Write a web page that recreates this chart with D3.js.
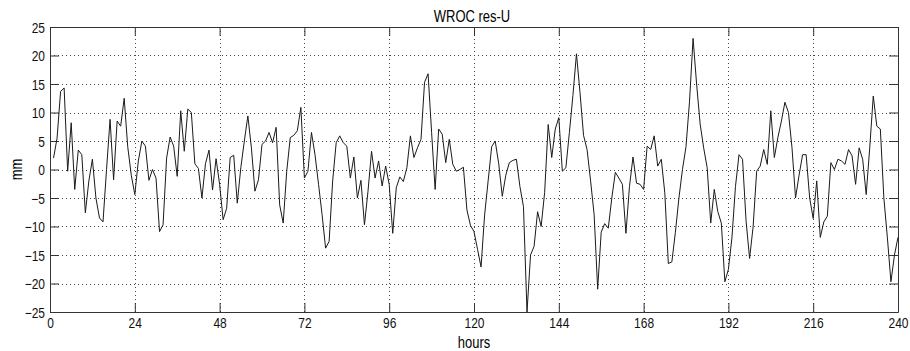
<!DOCTYPE html>
<html>
<head>
<meta charset="utf-8">
<script src="https://cdn.jsdelivr.net/npm/d3@7"></script>
<style>
  body { margin: 0; background: #fff; }
  svg { display: block; font-family: "Liberation Sans", Arial, sans-serif; }
</style>
</head>
<body>
<div class="chart"></div>
<script>
// hourly residuals, hours 1..240
const resU = [
  2, 5.5, 13.7, 14.3, -0.3, 8.2, -3.5, 3.4, 2.6, -7.6,
  -2, 1.8, -5, -8.5, -9.2, 0, 8.8, -1.8, 8.5, 7.6,
  12.5, 4, -1, -4.4, 1.5, 5, 4.1, -1.9, 0, -1.5,
  -10.9, -9.7, 2, 5.7, 4.1, -1.2, 10.3, 3.2, 10.6, 10,
  1, 0.2, -5, 1, 3.4, -3.6, 1.9, -2.6, -8.8, -6.8,
  2.1, 2.5, -5.9, 0.3, 5, 9.4, 3.8, -3.8, -1.8, 4.4,
  5, 6.5, 4.7, 7.4, -6.2, -9.4, -0.3, 5.6, 6, 6.8,
  10.9, -1.5, -0.3, 6.5, 2.6, -2.6, -7.9, -13.8, -12.6, -2,
  4.7, 5.9, 4.7, 4.1, -1.5, 2.2, -5, -1.9, -9.7, -3.8,
  3.2, -1.5, 1.5, -2.9, 0.6, -2.6, -11.2, -3.2, -1.3, -2.1,
  0.3, 5.9, 2.1, 3.8, 5.3, 15.3, 16.8, 6.5, -3.5, 7.1,
  6.2, 1.2, 5.3, 0.9, -0.3, 0, 0.4, -7.1, -9.8, -10.9,
  -14, -17.1, -8, -2, 4, 5, 1, -4.7, -1, 1.2,
  1.6, 1.8, -3, -6.5, -25, -15, -13.5, -7.4, -10, -4,
  7.9, 2.1, 7.1, 9.1, -0.3, 0.3, 6.5, 13, 20.3, 13.5,
  6, 3.5, -2, -7.9, -21, -11, -9.5, -10.3, -5, -0.5,
  -1.5, -2.6, -11.2, -3, 2.2, -2.4, -2.6, -3.5, 4.1, 3.5,
  5.9, 0.6, 1.8, -4.1, -16.5, -16.2, -11, -5, 0, 4,
  12, 23, 15, 8, 3.8, 0.3, -9.4, -3.5, -7.4, -9.4,
  -19.7, -17.5, -12, -3, 2.6, 1.8, -9, -15.6, -10, -0.3,
  0.6, 3.5, 0.9, 10.3, 2.1, 5.6, 8.5, 11.8, 10, 3.8,
  -5, -1, 2.6, 2.6, -5, -8.6, -2, -11.9, -9.2, -8.2,
  1.2, 0, 1.8, 1.5, 0.9, 3.5, 2.4, -2.6, 3.8, 1.8,
  -4.4, 3.8, 12.9, 7.6, 7.1, -5, -12, -19.7, -15, -11.9
];
const hours = resU.map((d, i) => i + 1);

const xTicks = [0, 24, 48, 72, 96, 120, 144, 168, 192, 216, 240];
const yTicks = [-25, -20, -15, -10, -5, 0, 5, 10, 15, 20, 25];

function drawChart() {
  const width = 910;
  const height = 351;
  const margins = {top: 27, bottom: 39, left: 50, right: 12};
  const tickLen = 9;
  const stretch = "scale(1,1.2)";   // matlab text looks taller than arial

  const svg = d3.select(".chart").append("svg")
    .attr("width", width)
    .attr("height", height);

  const xScale = d3.scaleLinear()
    .domain([0, 240])
    .range([margins.left, width - margins.right]);

  const yScale = d3.scaleLinear()
    .domain([-25, 25])
    .range([height - margins.bottom, margins.top]);

  const x0 = xScale(0), x1 = xScale(240);
  const y0 = yScale(-25), y1 = yScale(25);

  // dotted grid
  svg.append("g").selectAll("line")
    .data(xTicks.slice(1, -1))
    .enter()
    .append("line")
      .attr("x1", d => Math.round(xScale(d)) + 0.5)
      .attr("x2", d => Math.round(xScale(d)) + 0.5)
      .attr("y1", y1)
      .attr("y2", y0)
      .attr("stroke", "#444")
      .attr("stroke-dasharray", "1,3");

  svg.append("g").selectAll("line")
    .data(yTicks.slice(1, -1))
    .enter()
    .append("line")
      .attr("x1", x0)
      .attr("x2", x1)
      .attr("y1", d => Math.round(yScale(d)) + 0.5)
      .attr("y2", d => Math.round(yScale(d)) + 0.5)
      .attr("stroke", "#444")
      .attr("stroke-dasharray", "1,3");

  // axes with inward ticks on all four sides
  const bottom = svg.append("g")
    .attr("transform", `translate(0, ${y0})`)
    .call(d3.axisBottom(xScale).tickValues(xTicks).tickSizeInner(-tickLen).tickSizeOuter(0));
  svg.append("g")
    .attr("transform", `translate(0, ${y1})`)
    .call(d3.axisTop(xScale).tickValues(xTicks).tickSizeInner(-tickLen).tickSizeOuter(0).tickFormat(""));
  const left = svg.append("g")
    .attr("transform", `translate(${x0}, 0)`)
    .call(d3.axisLeft(yScale).tickValues(yTicks).tickSizeInner(-tickLen).tickSizeOuter(0));
  svg.append("g")
    .attr("transform", `translate(${x1}, 0)`)
    .call(d3.axisRight(yScale).tickValues(yTicks).tickSizeInner(-tickLen).tickSizeOuter(0).tickFormat(""));

  svg.selectAll(".domain").attr("stroke", "#333");
  svg.selectAll(".tick line").attr("stroke", "#333");
  svg.selectAll(".tick text")
    .attr("fill", "#111")
    .style("font-size", "12px")
    .style("font-family", "'Liberation Sans', Arial, sans-serif");

  bottom.selectAll(".tick text")
    .attr("y", null).attr("dy", null)
    .attr("transform", `translate(0, 16) ${stretch}`);
  left.selectAll(".tick text")
    .attr("x", null).attr("dy", null)
    .attr("transform", `translate(-5, 5) ${stretch}`);

  // the series
  const line = d3.line()
    .x((d, i) => xScale(hours[i]))
    .y(d => yScale(d));

  svg.append("path")
    .attr("fill", "none")
    .attr("stroke", "#1a1a1a")
    .attr("stroke-width", 1)
    .attr("d", line(resU));

  // labels
  svg.append("text")
    .attr("transform", `translate(${(x0 + x1) / 2 - 2}, 21.5) ${stretch}`)
    .attr("text-anchor", "middle")
    .style("font-size", "13px")
    .text("WROC res-U");

  svg.append("text")
    .attr("transform", `translate(${(x0 + x1) / 2}, 348) ${stretch}`)
    .attr("text-anchor", "middle")
    .style("font-size", "13px")
    .text("hours");

  svg.append("text")
    .attr("transform", `translate(21.5, ${(y0 + y1) / 2}) rotate(-90) ${stretch}`)
    .attr("text-anchor", "middle")
    .style("font-size", "13px")
    .text("mm");
}

drawChart();
</script>
</body>
</html>
